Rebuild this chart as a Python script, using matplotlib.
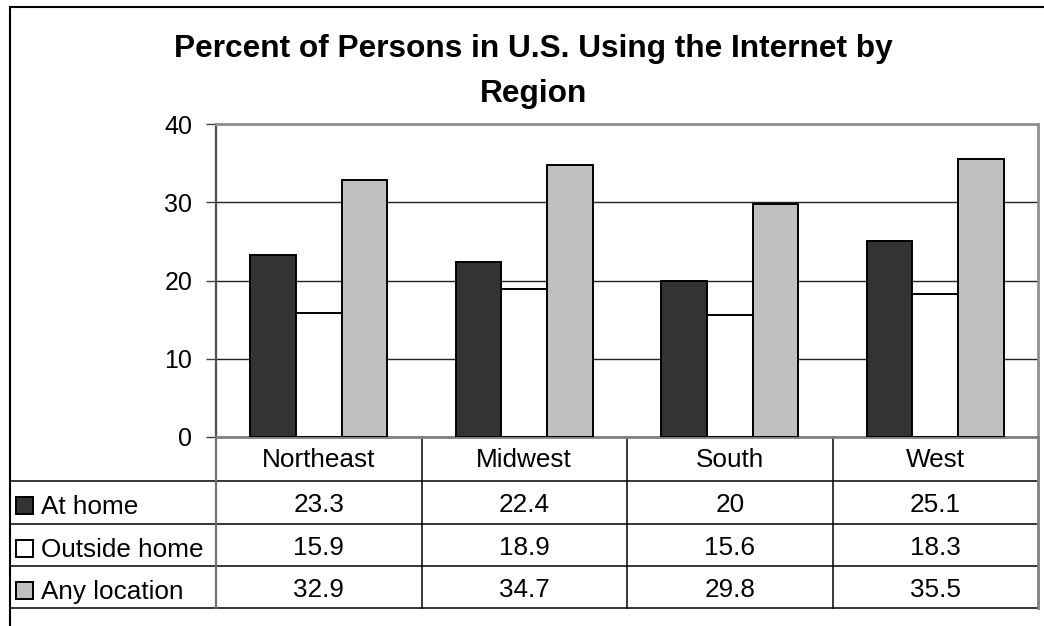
import matplotlib
matplotlib.use("Agg")
import matplotlib.pyplot as plt
import numpy as np

plt.rcParams['font.family'] = ['Liberation Sans', 'DejaVu Sans']

regions = ['Northeast', 'Midwest', 'South', 'West']
series = ['At home', 'Outside home', 'Any location']
at_home = [23.3, 22.4, 20, 25.1]
outside_home = [15.9, 18.9, 15.6, 18.3]
any_location = [32.9, 34.7, 29.8, 35.5]
values = [at_home, outside_home, any_location]
colors = ['#333333', '#ffffff', '#c0c0c0']

W, H = 1044, 626
fig = plt.figure(figsize=(W / 100, H / 100), dpi=100)

# pixel layout (top-left origin)
px_left, px_right = 216, 1038
px_top, px_bottom = 124, 437
row_edges = [437, 481, 524, 566, 608]
tbl_left = 10


def rect(l, t, r, b):
    return [l / W, 1 - b / H, (r - l) / W, (b - t) / H]


# overlay for frame, title and table
ov = fig.add_axes([0, 0, 1, 1], zorder=0)
ov.set_xlim(0, W)
ov.set_ylim(H, 0)
ov.axis('off')

# outer chart border
ov.plot([10, 10, W + 5], [H + 5, 7, 7], color='black', lw=1.5, solid_joinstyle='miter')

ov.text(533, 57, 'Percent of Persons in U.S. Using the Internet by',
        ha='center', va='baseline', fontsize=22.8, fontweight='bold')
ov.text(534, 102, 'Region', ha='center', va='baseline', fontsize=22.8, fontweight='bold')

ax = fig.add_axes(rect(px_left, px_top, px_right, px_bottom), zorder=2)
ax.patch.set_alpha(0)
n = len(regions)
x = np.arange(n)
bw = 1 / 4.5
for i, (vals, c) in enumerate(zip(values, colors)):
    ax.bar(x + (i - 1) * bw, vals, bw, color=c, edgecolor='black', lw=1.4, zorder=3)

ax.set_xlim(-0.5, n - 0.5)
ax.set_ylim(0, 40)
ax.set_yticks([0, 10, 20, 30, 40])
ax.set_xticks([])
ax.tick_params(axis='y', labelsize=18, length=7, width=1, color='#404040', pad=10)
ax.grid(axis='y', color='#222222', lw=1, zorder=1)
ax.set_axisbelow(True)
for s in ['top', 'right']:
    ax.spines[s].set_color('#909090')
    ax.spines[s].set_linewidth(2)
ax.spines['left'].set_color('#505050')
ax.spines['left'].set_linewidth(1.6)
ax.spines['bottom'].set_color('#808080')
ax.spines['bottom'].set_linewidth(2)

# data table
col_w = (px_right - px_left) / n
col_edges = [px_left + k * col_w for k in range(n + 1)]
for y in row_edges[1:]:
    ov.plot([tbl_left, px_right], [y, y], color='black', lw=1.1)
ov.plot([px_left, px_left], [row_edges[0], row_edges[-1]], color='#707070', lw=1.6)
for xe in col_edges[1:-1]:
    ov.plot([xe, xe], [row_edges[0], row_edges[-1]], color='black', lw=1.1)
ov.plot([px_right, px_right], [row_edges[0], row_edges[-1]], color='#808080', lw=2)

fs = 18.8
for k, name in enumerate(regions):
    cx = 0.5 * (col_edges[k] + col_edges[k + 1])
    ov.text(cx, row_edges[0] + 30, name, ha='center', va='baseline', fontsize=fs)
    for r, vals in enumerate(values):
        ov.text(cx, row_edges[r + 1] + 31, f'{vals[k]:g}', ha='center', va='baseline', fontsize=fs)

for r, (name, c) in enumerate(zip(series, colors)):
    top = row_edges[r + 1]
    ov.add_patch(plt.Rectangle((16, top + 16), 17, 17, facecolor=c, edgecolor='black', lw=1.4))
    ov.text(41, top + 33, name, ha='left', va='baseline', fontsize=fs)

fig.savefig('out.png', dpi=100, facecolor='white')
